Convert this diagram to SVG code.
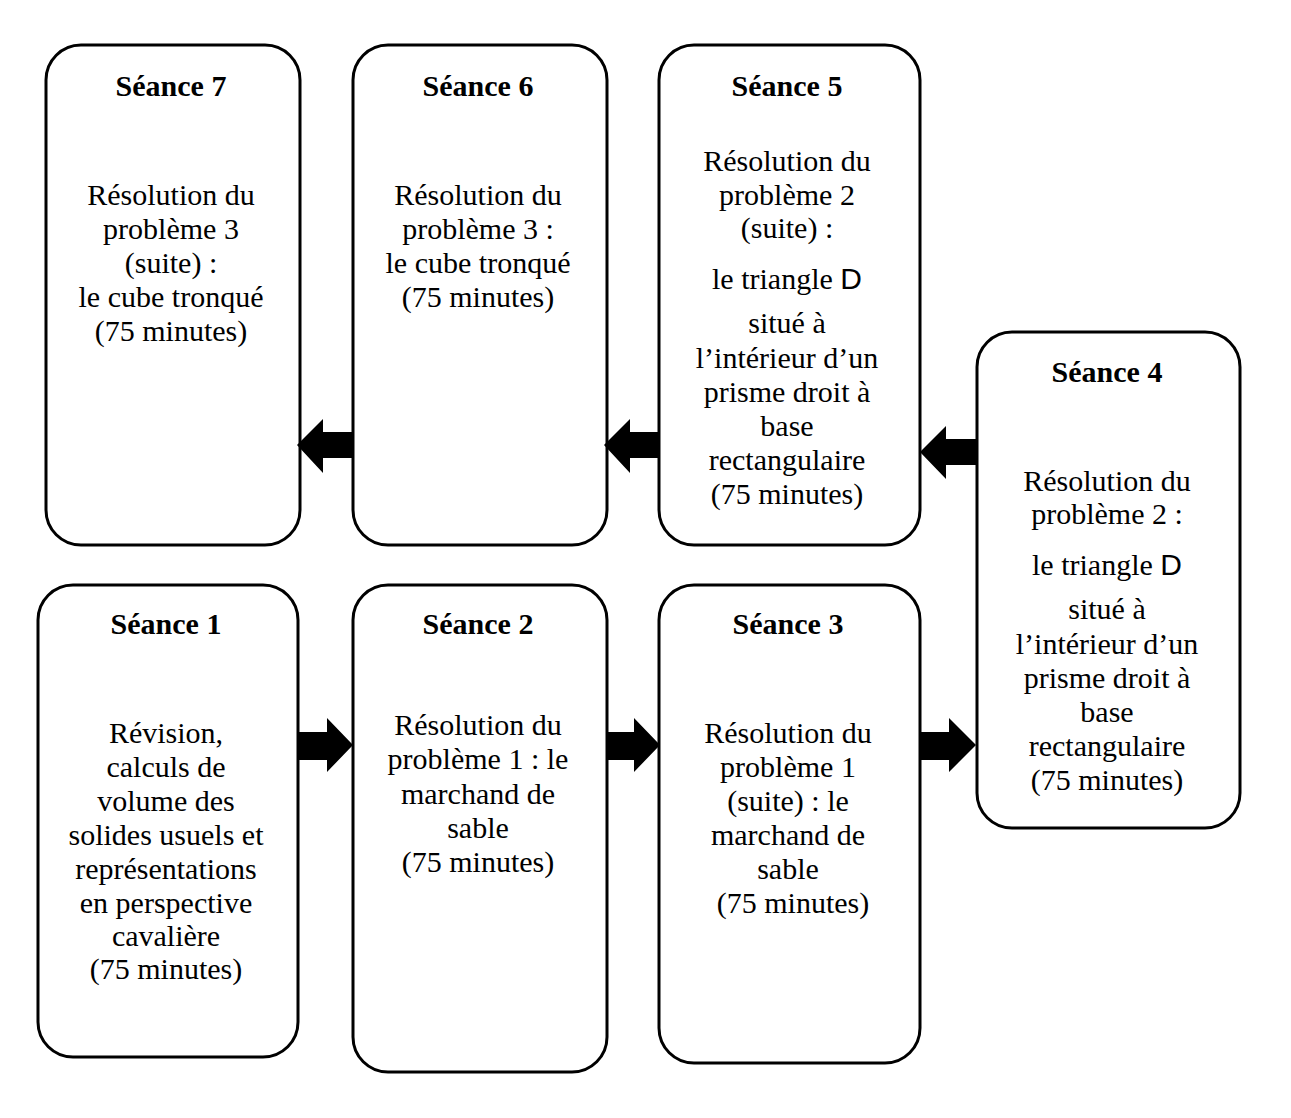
<svg xmlns="http://www.w3.org/2000/svg" width="1291" height="1118" viewBox="0 0 1291 1118">
<style>
.box{fill:#fff;stroke:#000;stroke-width:3}
text{font-family:"Times New Roman","Liberation Serif",Tinos,"DejaVu Serif",serif;font-size:30px;fill:#000;text-anchor:middle}
.t{font-weight:bold}
.s{font-family:Arial,"Liberation Sans",sans-serif}
.arr{fill:#000}
</style>
<rect width="1291" height="1118" fill="#fff"/>
<g id="seance7">
<rect class="box" x="46" y="45" width="254" height="500" rx="35"/>
<text class="t" x="171" y="96">Séance 7</text>
<text x="171" y="205">Résolution du</text>
<text x="171" y="239">problème 3</text>
<text x="171" y="273">(suite) :</text>
<text x="171" y="307">le cube tronqué</text>
<text x="171" y="341">(75 minutes)</text>
</g>
<g id="seance6">
<rect class="box" x="353" y="45" width="254" height="500" rx="35"/>
<text class="t" x="478" y="96">Séance 6</text>
<text x="478" y="205">Résolution du</text>
<text x="478" y="239">problème 3 :</text>
<text x="478" y="273">le cube tronqué</text>
<text x="478" y="307">(75 minutes)</text>
</g>
<g id="seance5">
<rect class="box" x="659" y="45" width="261" height="500" rx="35"/>
<text class="t" x="787" y="96">Séance 5</text>
<text x="787" y="171">Résolution du</text>
<text x="787" y="205">problème 2</text>
<text x="787" y="238">(suite) :</text>
<text x="787" y="289">le triangle <tspan class="s">D</tspan></text>
<text x="787" y="333">situé à</text>
<text x="787" y="368">l’intérieur d’un</text>
<text x="787" y="402">prisme droit à</text>
<text x="787" y="436">base</text>
<text x="787" y="470">rectangulaire</text>
<text x="787" y="504">(75 minutes)</text>
</g>
<g id="seance4">
<rect class="box" x="977" y="332" width="263" height="496" rx="35"/>
<text class="t" x="1107" y="382">Séance 4</text>
<text x="1107" y="491">Résolution du</text>
<text x="1107" y="524">problème 2 :</text>
<text x="1107" y="575">le triangle <tspan class="s">D</tspan></text>
<text x="1107" y="619">situé à</text>
<text x="1107" y="654">l’intérieur d’un</text>
<text x="1107" y="688">prisme droit à</text>
<text x="1107" y="722">base</text>
<text x="1107" y="756">rectangulaire</text>
<text x="1107" y="790">(75 minutes)</text>
</g>
<g id="seance1">
<rect class="box" x="38" y="585" width="260" height="472" rx="35"/>
<text class="t" x="166" y="634">Séance 1</text>
<text x="166" y="743">Révision,</text>
<text x="166" y="777">calculs de</text>
<text x="166" y="811">volume des</text>
<text x="166" y="845">solides usuels et</text>
<text x="166" y="879">représentations</text>
<text x="166" y="913">en perspective</text>
<text x="166" y="946">cavalière</text>
<text x="166" y="979">(75 minutes)</text>
</g>
<g id="seance2">
<rect class="box" x="353" y="585" width="254" height="487" rx="35"/>
<text class="t" x="478" y="634">Séance 2</text>
<text x="478" y="735">Résolution du</text>
<text x="478" y="769">problème 1 : le</text>
<text x="478" y="804">marchand de</text>
<text x="478" y="838">sable</text>
<text x="478" y="872">(75 minutes)</text>
</g>
<g id="seance3">
<rect class="box" x="659" y="585" width="261" height="478" rx="35"/>
<text class="t" x="788" y="634">Séance 3</text>
<text x="788" y="743">Résolution du</text>
<text x="788" y="777">problème 1</text>
<text x="788" y="811">(suite) : le</text>
<text x="788" y="845">marchand de</text>
<text x="788" y="879">sable</text>
<text x="793" y="913">(75 minutes)</text>
</g>
<g id="connectors">
<polygon class="arr" points="297,445 323,419 323,432 354,432 354,458 323,458 323,473"/>
<polygon class="arr" points="604,445 630,419 630,432 660,432 660,458 630,458 630,473"/>
<polygon class="arr" points="920,452 946,426 946,439 976,439 976,465 946,465 946,479"/>
<polygon class="arr" points="298,732 327,732 327,718 353,745 327,772 327,760 298,760"/>
<polygon class="arr" points="607,732 634,732 634,718 660,745 634,772 634,760 607,760"/>
<polygon class="arr" points="920,732 949,732 949,718 976,745 949,772 949,760 920,760"/>
</g>
</svg>
